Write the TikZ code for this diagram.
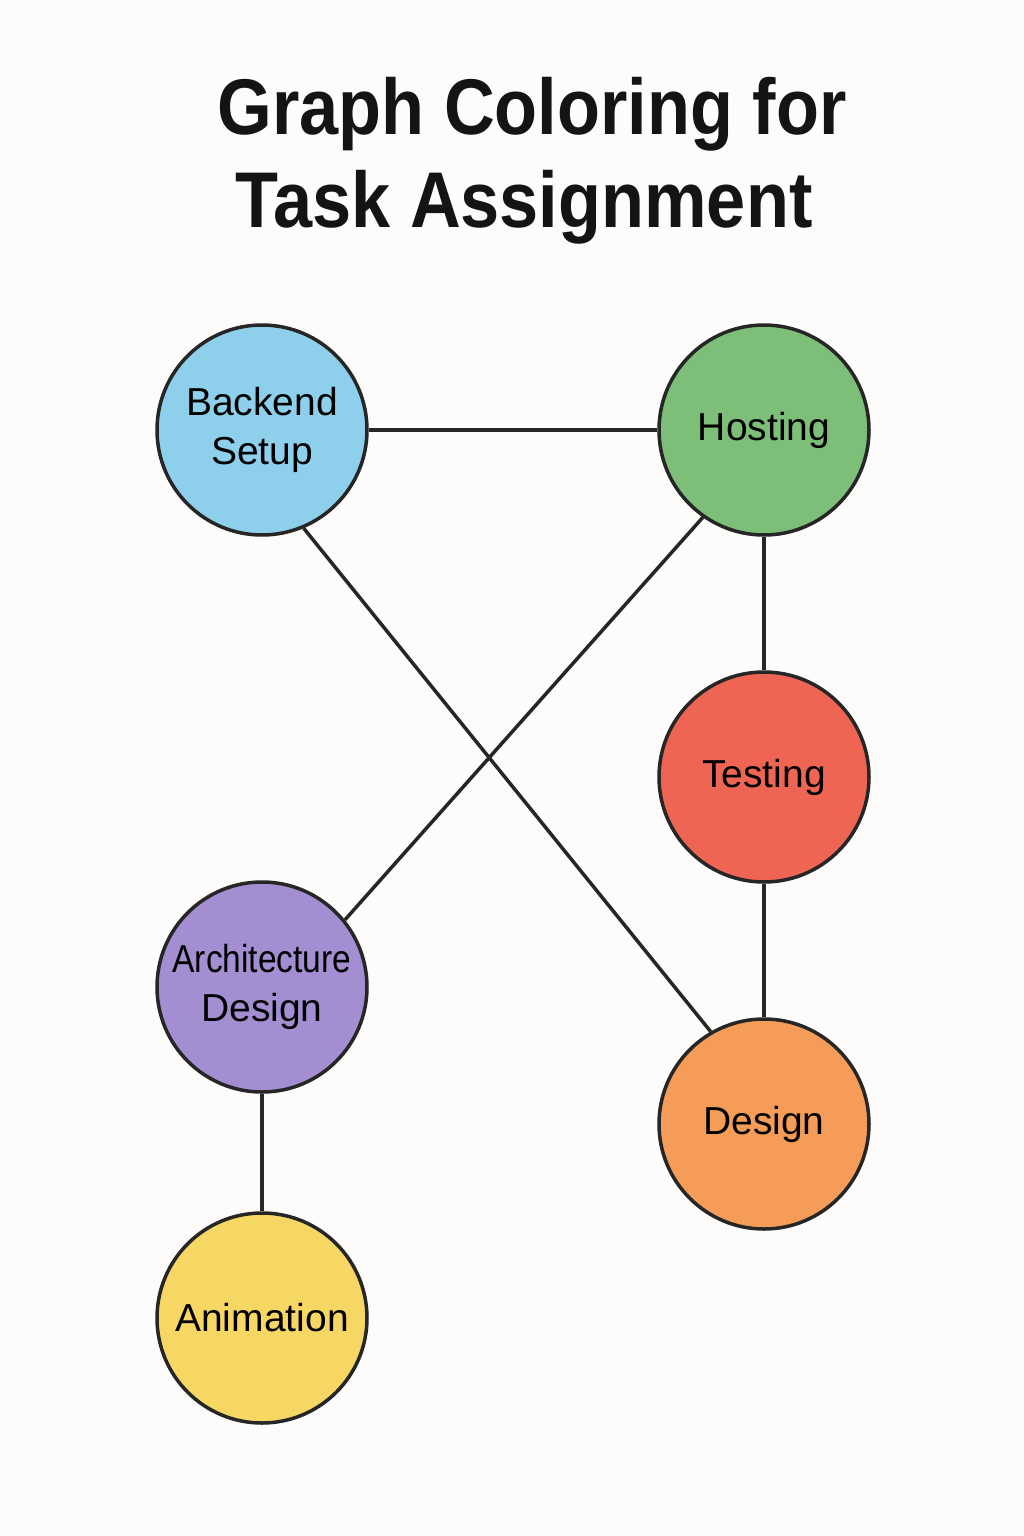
\documentclass[tikz,border=0pt]{standalone}
\usepackage{fontspec}
\setmainfont{Liberation Sans}
\definecolor{bgc}{HTML}{FDFCFA}
\definecolor{edgec}{HTML}{262626}
\definecolor{cblue}{HTML}{8ED0EB}
\definecolor{cgreen}{HTML}{7DBF78}
\definecolor{cred}{HTML}{EF6554}
\definecolor{cpurple}{HTML}{A28ED1}
\definecolor{corange}{HTML}{F59D58}
\definecolor{cyellow}{HTML}{F7D763}
\tikzset{
  task/.style={circle, draw=edgec, line width=3.5pt, minimum size=210pt, inner sep=0pt,
    align=center, font=\fontsize{39}{49}\selectfont, text=black},
  link/.style={draw=edgec, line width=3.5pt},
  ttl/.style={font=\fontsize{79}{92}\selectfont\bfseries, text=black!92, inner sep=0pt}
}
\begin{document}
\begin{tikzpicture}[x=1pt,y=-1pt]
\fill[bgc] (0,0) rectangle (1024,1536);
\useasboundingbox (0,0) rectangle (1024,1536);
\node[ttl, anchor=base] (t1) at (532,135) {\scalebox{0.89}[1]{Graph Coloring for}};
\node[ttl, anchor=base] (t2) at (524,227) {\scalebox{0.89}[1]{Task Assignment}};
\coordinate (cb) at (262,430);
\coordinate (ch) at (764,430);
\coordinate (ct) at (764,777);
\coordinate (ca) at (262,987);
\coordinate (cd) at (764,1124);
\coordinate (cn) at (262,1318);
\node[task, fill=cblue] (b) at (cb) {Backend\\Setup};
\node[task, fill=cgreen] (h) at (ch) {Hosting};
\node[task, fill=cred] (t) at (ct) {Testing};
\node[task, fill=cpurple] (a) at (ca) {\scalebox{0.86}[1]{Architecture}\\Design};
\node[task, fill=corange] (d) at (cd) {Design};
\node[task, fill=cyellow] (n) at (cn) {Animation};
\draw[link] (b) -- (h);
\draw[link] (h) -- (t);
\draw[link] (t) -- (d);
\draw[link] (a) -- (n);
\draw[link] (b.-67) -- (d.120);
\draw[link] (h.235) -- (a.39);
\end{tikzpicture}
\end{document}
